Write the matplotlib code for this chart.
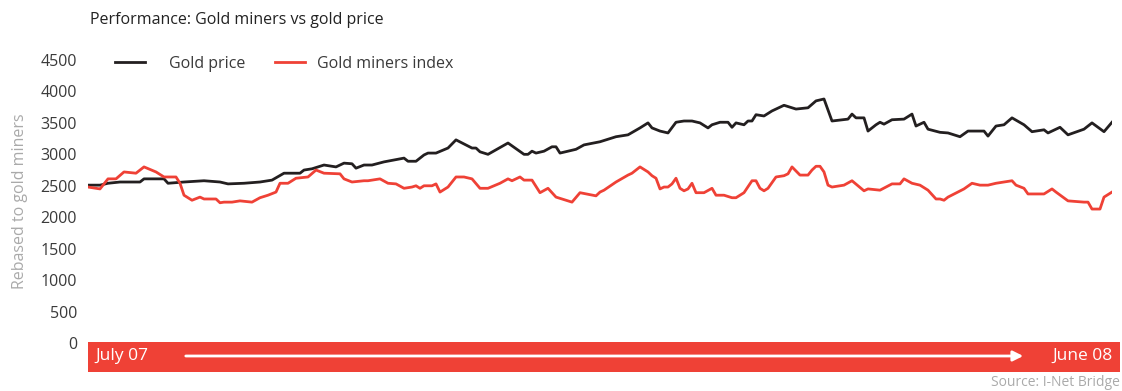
"""Gold miners vs gold price, July 07 - June 08, rebased to gold miners."""

import matplotlib
matplotlib.use("Agg")
import matplotlib.pyplot as plt
from matplotlib.lines import Line2D
from matplotlib.patches import Rectangle, FancyArrowPatch

# trading-day index (0 = early July 2007) and rebased levels
gold_day = [0, 3, 5, 8, 13, 14, 19, 20, 24, 29, 33, 35, 39, 43, 46, 49, 53,
            54, 56, 59, 62, 64, 66, 67, 69, 71, 74, 79, 80, 82, 84, 85, 87,
            90, 92, 96, 97, 98, 100, 105, 109, 110, 111, 112, 114, 116, 117,
            118, 122, 124, 128, 131, 132, 135, 138, 140, 141, 143, 145, 147,
            149, 151, 153, 155, 156, 158, 160, 161, 162, 164, 165, 166, 167,
            169, 171, 174, 177, 180, 182, 184, 186, 190, 191, 192, 194, 195,
            197, 198, 199, 201, 204, 206, 207, 209, 210, 213, 215, 218, 220,
            224, 225, 227, 229, 231, 234, 236, 239, 240, 243, 245, 249, 251,
            254, 256]
gold_price = [2510, 2510, 2540, 2560, 2560, 2610, 2610, 2540, 2560, 2580,
              2560, 2530, 2540, 2560, 2590, 2700, 2700, 2750, 2770, 2830,
              2800, 2860, 2850, 2780, 2830, 2830, 2880, 2940, 2890, 2890,
              2990, 3020, 3020, 3100, 3230, 3100, 3100, 3040, 3000, 3180,
              3000, 3000, 3050, 3020, 3050, 3120, 3120, 3020, 3080, 3150,
              3200, 3260, 3280, 3310, 3420, 3500, 3420, 3370, 3340, 3510,
              3530, 3530, 3500, 3420, 3470, 3510, 3510, 3430, 3500, 3470,
              3530, 3530, 3630, 3610, 3690, 3780, 3720, 3740, 3850, 3880,
              3530, 3560, 3640, 3580, 3580, 3370, 3470, 3510, 3480, 3550,
              3560, 3640, 3450, 3510, 3400, 3350, 3340, 3280, 3370, 3370,
              3290, 3450, 3470, 3580, 3470, 3360, 3390, 3340, 3430, 3310,
              3400, 3500, 3360, 3510]

miners_day = [0, 3, 5, 7, 9, 12, 14, 17, 19, 21, 22, 23, 24, 26, 28, 29, 32,
              33, 34, 36, 38, 41, 43, 45, 47, 48, 50, 52, 55, 57, 59, 63, 64,
              66, 69, 70, 73, 75, 77, 79, 81, 82, 83, 84, 86, 87, 88, 90, 92,
              94, 96, 98, 100, 103, 105, 106, 108, 109, 111, 113, 115, 117,
              121, 123, 127, 128, 129, 132, 135, 136, 138, 140, 141, 142, 143,
              144, 145, 146, 147, 148, 149, 150, 151, 152, 154, 156, 157, 159,
              161, 162, 164, 166, 167, 168, 169, 170, 172, 174, 175, 176, 178,
              180, 181, 182, 183, 184, 185, 186, 189, 191, 194, 195, 198, 201,
              203, 204, 206, 208, 210, 212, 213, 214, 215, 219, 221, 223, 225,
              227, 231, 232, 234, 235, 239, 241, 242, 245, 249, 250, 251, 253,
              254, 256]
miners_index = [2480, 2450, 2610, 2610, 2720, 2700, 2800, 2720, 2640, 2640,
                2640, 2540, 2350, 2270, 2320, 2290, 2290, 2230, 2240, 2240,
                2260, 2240, 2310, 2350, 2400, 2540, 2540, 2620, 2640, 2750,
                2700, 2690, 2610, 2560, 2580, 2580, 2610, 2540, 2530, 2460,
                2480, 2500, 2460, 2500, 2500, 2530, 2400, 2480, 2640, 2640,
                2610, 2460, 2460, 2540, 2610, 2580, 2640, 2590, 2590, 2390,
                2460, 2320, 2240, 2390, 2340, 2400, 2430, 2560, 2670, 2700,
                2800, 2720, 2660, 2620, 2450, 2480, 2480, 2530, 2620, 2460,
                2420, 2450, 2540, 2390, 2390, 2460, 2350, 2350, 2310, 2310,
                2390, 2580, 2580, 2460, 2420, 2460, 2640, 2660, 2690, 2800,
                2670, 2670, 2750, 2810, 2810, 2720, 2510, 2480, 2510, 2580,
                2420, 2450, 2430, 2530, 2530, 2610, 2540, 2510, 2430, 2290,
                2290, 2270, 2320, 2450, 2540, 2510, 2510, 2540, 2580, 2510,
                2460, 2370, 2370, 2450, 2400, 2260, 2240, 2240, 2130, 2130,
                2320, 2400]

y_ticks = [0, 500, 1000, 1500, 2000, 2500, 3000, 3500, 4000, 4500]

BLACK = "#231f20"
RED = "#ef4136"
FONT = "Open Sans"


def main() -> None:
    W, H = 1122, 391
    fig = plt.figure(figsize=(W / 100, H / 100), dpi=100)
    ax = fig.add_axes([88 / W, (H - 343) / H, (1112 - 88) / W, (343 - 60) / H])

    gold, = ax.plot(gold_day, gold_price, color=BLACK, lw=2.0)
    miners, = ax.plot(miners_day, miners_index, color=RED, lw=2.0)

    ax.set_xlim(0, 256)
    ax.set_ylim(0, 4500)
    ax.set_xticks([])
    ax.set_yticks(y_ticks)
    ax.set_yticklabels([str(v) for v in y_ticks], fontsize=11.5,
                       color="#3a3a3a", family=FONT)
    ax.tick_params(axis="y", length=0, pad=8)
    for s in ax.spines.values():
        s.set_visible(False)
    ax.set_ylabel("Rebased to gold miners", fontsize=11.5, color="#aaaaaa",
                  family=FONT, labelpad=9)

    # two one-entry legends, the reference spaces them unevenly
    prop = {"family": FONT, "size": 11.5}
    for handle, label, x0, pad in [(gold, "Gold price", 115, 1.5),
                                   (miners, "Gold miners index", 275, 0.7)]:
        leg = fig.legend([handle], [label], loc="center left",
                         bbox_to_anchor=(x0 / W, (H - 64) / H),
                         bbox_transform=fig.transFigure, frameon=False,
                         borderpad=0, borderaxespad=0, handlelength=1.9,
                         handletextpad=pad, prop=prop)
        for t in leg.get_texts():
            t.set_color("#3a3a3a")

    # red timeline bar under the plot
    fig.add_artist(Rectangle((88 / W, (H - 372) / H), (1120 - 88) / W,
                             30 / H, transform=fig.transFigure,
                             facecolor=RED, edgecolor="none"))
    fig.text(95 / W, (H - 356) / H, "July 07", color="white", fontsize=12.5,
             family=FONT, va="center", ha="left")
    fig.text(1113 / W, (H - 356) / H, "June 08", color="white", fontsize=12.5,
             family=FONT, va="center", ha="right")
    fig.add_artist(FancyArrowPatch((183 / W, (H - 356) / H),
                                   (1026 / W, (H - 356) / H),
                                   transform=fig.transFigure,
                                   arrowstyle="-|>,head_length=6,head_width=3",
                                   color="white", lw=2))

    fig.text(90 / W, (H - 20) / H, "Performance: Gold miners vs gold price",
             fontsize=11.5, color="#222222", family=FONT, va="center")
    fig.text(1120 / W, (H - 382) / H, "Source: I-Net Bridge", fontsize=10,
             color="#aaaaaa", family=FONT, va="center", ha="right")

    fig.savefig("out.png", dpi=100)


if __name__ == "__main__":
    main()
